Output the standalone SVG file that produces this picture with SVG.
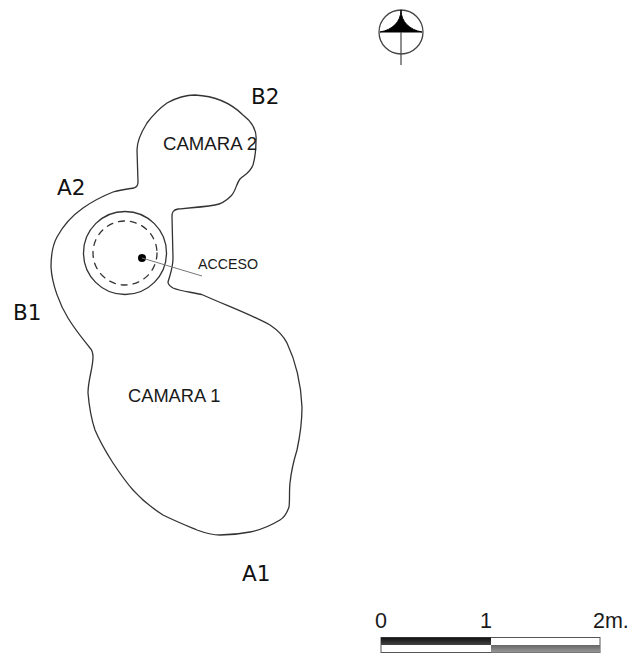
<svg xmlns="http://www.w3.org/2000/svg" width="634" height="655" viewBox="0 0 634 655">
<style>
.l{fill:none;stroke:#333;stroke-width:1.3;stroke-linejoin:round;stroke-linecap:round}
.v{font-family:"DejaVu Sans",sans-serif;font-size:21.5px;fill:#111}
.a{font-family:"Liberation Sans",Arial,sans-serif;fill:#1a1a1a}
</style>
<defs>
<linearGradient id="g1" x1="0" y1="0" x2="0" y2="1"><stop offset="0" stop-color="#111"/><stop offset="1" stop-color="#444"/></linearGradient>
<linearGradient id="g2" x1="0" y1="0" x2="0" y2="1"><stop offset="0" stop-color="#666"/><stop offset="1" stop-color="#999"/></linearGradient>
</defs>
<rect width="634" height="655" fill="#fff"/>
<g id="outline">
<path class="l" d="M195 95C215 96 232 104 243 115C252 122 257 130 256 140C256 150 255 158 253 165C250 173 244 175 240 179C236 184 236 191 231 196C226 201 222 204 215 205C203 207 190 208 178 209C173 210 172 212 172 217L173 258C173 268 170 275 168 282C168 285 170 286 173 288C183 292 193 292 203 295C225 305 250 314 270 325C279 331 284 337 287 343C296 362 301 385 302 407C302 422 300 436 297 450C293 463 291 473 290 483C289 492 290 500 289 507C287 513 285 517 280 520C270 526 260 530 250 532C240 534 230 535 220 535C212 535 205 533 197 530C185 525 175 521 163 515C152 508 142 500 133 490C125 481 119 472 113 463C106 452 100 442 95 430C91 418 89 405 88 393C88 380 93 368 93 357C93 352 92 350 90 348C83 339 76 331 68 318C60 305 52 285 51 267C51 255 52 246 57 237C64 224 73 215 83 208C93 201 103 196 113 192C120 190 127 189 134 188C137 187 138 185 138 182L137 150C137 140 142 131 147 123C153 115 160 108 167 103C176 98 185 95 195 95Z"/>
</g>
<g id="acceso">
<circle class="l" cx="125" cy="253" r="41.5"/>
<circle class="l" cx="125" cy="253" r="32" stroke-dasharray="6 6"/>
<circle cx="142" cy="258" r="4" fill="#000"/>
<line x1="142" y1="258" x2="202" y2="276" stroke="#777" stroke-width="1"/>
<text class="a" x="198" y="269" font-size="14.2">ACCESO</text>
</g>
<g id="labels">
<text class="a" x="163" y="150" font-size="18.6">CAMARA 2</text>
<text class="a" x="128" y="402" font-size="18.3">CAMARA 1</text>
<text class="v" x="251" y="104">B2</text>
<text class="v" x="57" y="195">A2</text>
<text class="v" x="13" y="320">B1</text>
<text class="v" x="242" y="581">A1</text>
</g>
<g id="north">
<circle cx="401" cy="32" r="22" fill="none" stroke="#444" stroke-width="1.3"/>
<path d="M401 10C401 22 392 30 380 32L422 32C410 30 401 22 401 10Z" fill="#000" stroke="#000"/>
<line x1="401" y1="32" x2="401" y2="65" stroke="#444" stroke-width="1.2"/>
</g>
<g id="scale">
<rect x="381" y="637.5" width="219" height="15" fill="#fff" stroke="#555" stroke-width="1"/>
<rect x="381" y="637.5" width="110" height="7.5" fill="url(#g1)"/>
<rect x="491" y="645" width="109" height="7.5" fill="url(#g2)"/>
<text class="a" x="375" y="628" font-size="21.5">0</text>
<text class="a" x="480" y="628" font-size="21.5">1</text>
<text class="a" x="593" y="628" font-size="21.5">2m.</text>
</g>
</svg>
